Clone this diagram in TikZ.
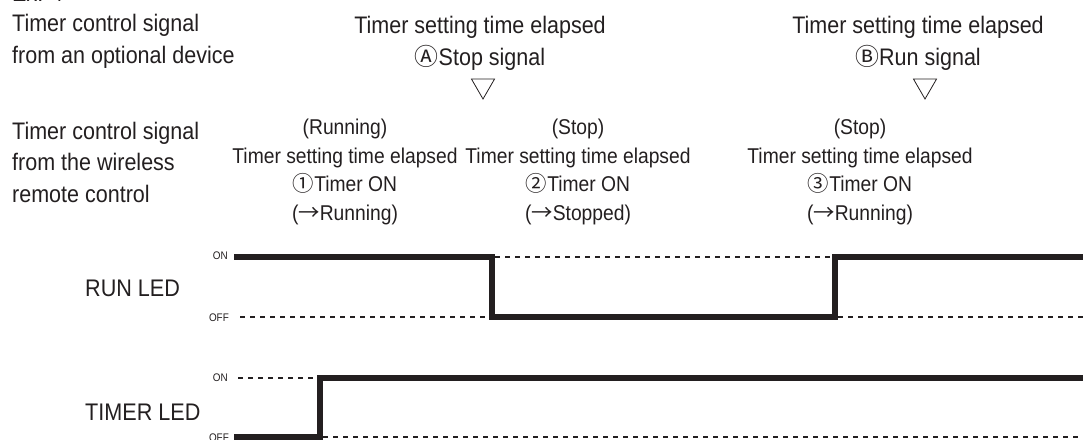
\documentclass[tikz,border=0pt]{standalone}
\usepackage{fontspec}
\setmainfont{Liberation Sans}[FakeStretch=0.9]
\newfontfamily\symfont{Noto Sans CJK JP}
\usetikzlibrary{shapes.geometric, positioning}
\definecolor{ink}{RGB}{35,31,32}
\newcommand{\sym}[1]{{\symfont #1}}
\tikzset{
  bigtext/.style = {font=\fontsize{23.9}{32}\selectfont, align=center, inner sep=0pt, text=ink, anchor=base},
  smalltext/.style = {font=\fontsize{21.4}{28.5}\selectfont, align=center, inner sep=0pt, text=ink, anchor=base},
  lefttext/.style = {font=\fontsize{23.9}{31.5}\selectfont, align=left, inner sep=0pt, text=ink, anchor=base west},
  ledtext/.style = {font=\fontsize{24}{24}\selectfont, inner sep=0pt, text=ink, anchor=west},
  level/.style = {font=\fontsize{11}{11}\selectfont, inner sep=0pt, text=ink, anchor=east},
  marker/.style = {regular polygon, regular polygon sides=3, shape border rotate=180,
    draw=ink, line width=0.8pt, minimum size=26.6pt, inner sep=0pt},
  wave/.style = {draw=ink, line width=6pt, line join=miter},
  refline/.style = {draw=ink, line width=2pt, dash pattern=on 5pt off 5pt}
}
\begin{document}
\begin{tikzpicture}[x=1pt, y=-1pt]
  \useasboundingbox (0,0) rectangle (1083,439);

  % --- optional device (anchors sit on the last line) ---
  \node (ex) [lefttext] at (12,1.5) {Ex. 4};
  \node (optdev) [lefttext] at (12,63) {Timer control signal\\from an optional device};
  \node (sigA) [bigtext] at (480,65) {Timer setting time elapsed\\\sym{Ⓐ}Stop signal};
  \node (sigB) [bigtext] at (918,65) {Timer setting time elapsed\\\sym{Ⓑ}Run signal};
  \node (triA) [marker] at (483,85.7) {};
  \node (triB) [marker] at (925,85.7) {};

  % --- wireless remote control ---
  \node (remote) [lefttext] at (12,202) {Timer control signal\\from the wireless\\remote control};
  \node (tim1) [smalltext] at (345,220) {(Running)\\Timer setting time elapsed\\\sym{①}Timer ON\\(\sym{→}Running)};
  \node (tim2) [smalltext] at (578,220) {(Stop)\\Timer setting time elapsed\\\sym{②}Timer ON\\(\sym{→}Stopped)};
  \node (tim3) [smalltext] at (860,220) {(Stop)\\Timer setting time elapsed\\\sym{③}Timer ON\\(\sym{→}Running)};

  % --- LEDs ---
  \node (runled) [ledtext] at (85,288) {RUN LED};
  \node (timled) [ledtext] at (85,412) {TIMER LED};
  \node (runon) [level] at (228,256) {ON};
  \node (runoff) [level] at (229,318) {OFF};
  \node (timon) [level] at (228,378) {ON};
  \node (timoff) [level] at (229,438) {OFF};

  % run led
  \coordinate (r0) at (234,257);
  \coordinate (rfall) at (492,257);
  \coordinate (rrise) at (835,317);
  \coordinate (rend) at (1086,257);
  \draw [refline] (240,317) -- (489,317);
  \draw [refline] (495,257) -- (832,257);
  \draw [refline] (838,317) -- (1083,317);
  \draw [wave] (r0) -- (rfall) |- (rrise) |- (rend);

  % timer led
  \coordinate (t0) at (234,437);
  \coordinate (trise) at (320,437);
  \coordinate (tend) at (1086,378);
  \draw [refline] (238,378) -- (317,378);
  \draw [refline] (323,437) -- (1083,437);
  \draw [wave] (t0) -- (trise) |- (tend);
\end{tikzpicture}
\end{document}
